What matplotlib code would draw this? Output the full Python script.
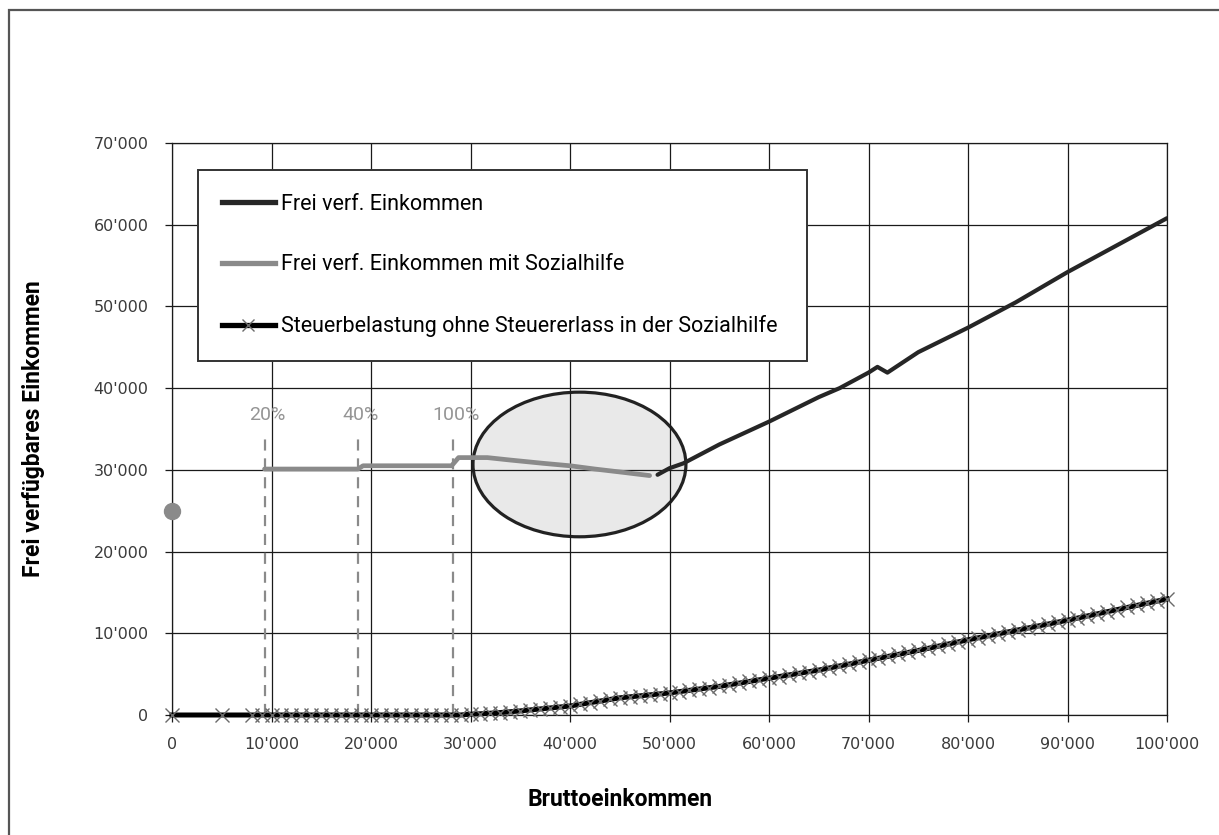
import matplotlib
matplotlib.use("Agg")
import matplotlib.pyplot as plt
import matplotlib.patches as patches
from matplotlib.ticker import FuncFormatter, MultipleLocator
from matplotlib.lines import Line2D

# Frei verfuegbares Einkommen (ohne Sozialhilfe)
income_x = [48800, 50000, 51400, 55000, 60000, 65000, 67100, 70000, 70900,
            71900, 75000, 80000, 84800, 90000, 95000, 100000]
income_y = [29400, 30200, 30800, 33100, 35900, 38900, 40000, 41900, 42600,
            41900, 44400, 47400, 50500, 54200, 57500, 60800]

# Frei verfuegbares Einkommen mit Sozialhilfe
social_x = [9300, 18700, 19200, 28100, 28800, 31700, 34000, 37300, 40000,
            42500, 45300, 48000]
social_y = [30100, 30100, 30500, 30500, 31500, 31500, 31200, 30800, 30500,
            30100, 29700, 29300]

# Einzelpunkt bei Bruttoeinkommen 0
zero_point = (0, 25000)

# Steuerbelastung ohne Steuererlass
tax_x = [0, 5000, 8000, 9000] + list(range(10000, 101000, 1000))
tax_y = [0, 0, 0, 0,
         0, 0, 0, 0, 0, 0, 0, 0, 0, 0,
         0, 0, 0, 0, 0, 0, 0, 0, 0, 0,
         100, 150, 220, 300, 400, 500, 620, 740, 860, 980,
         1100, 1300, 1500, 1700, 1900, 2100, 2220, 2340, 2460, 2580,
         2700, 2860, 3020, 3180, 3340, 3500, 3700, 3900, 4100, 4300,
         4500, 4700, 4900, 5100, 5300, 5500, 5740, 5980, 6220, 6460,
         6700, 6940, 7180, 7420, 7660, 7900, 8160, 8420, 8680, 8940,
         9200, 9440, 9680, 9920, 10160, 10400, 10640, 10880, 11120, 11360,
         11600, 11860, 12120, 12380, 12640, 12900, 13160, 13420, 13680, 13940,
         14200]

# Schwellen der Sozialhilfe
thresholds = [9300, 18700, 28200]
threshold_labels = ["20%", "40%", "100%"]
threshold_top = 34000

legend_labels = ["Frei verf. Einkommen",
                 "Frei verf. Einkommen mit Sozialhilfe",
                 "Steuerbelastung ohne Steuererlass in der Sozialhilfe"]

dark = "#262626"
grey = "#8a8a8a"

fig = plt.figure(figsize=(12.19, 8.35), dpi=100)
ax = fig.add_axes([172 / 1219, 1 - 715 / 835, 995 / 1219, 572 / 835])

ax.set_xlim(0, 100000)
ax.set_ylim(0, 70000)
ax.xaxis.set_major_locator(MultipleLocator(10000))
ax.yaxis.set_major_locator(MultipleLocator(10000))
fmt = FuncFormatter(lambda v, p: "0" if v == 0 else f"{int(v):,}".replace(",", "'"))
ax.xaxis.set_major_formatter(fmt)
ax.yaxis.set_major_formatter(fmt)

ax.grid(True, color="#1a1a1a", lw=0.9)
for s in ax.spines.values():
    s.set_color("#1a1a1a")
    s.set_linewidth(0.9)
ax.tick_params(axis="both", direction="out", length=5, width=0.9, color="#1a1a1a",
               labelsize=11.5, labelcolor="#3a3a3a")
ax.tick_params(axis="y", pad=12)
ax.tick_params(axis="x", pad=11)

# highlighted region
ell = patches.Ellipse((40950, 30660), 21400, 17700, facecolor="#e9e9e9",
                      edgecolor="#222222", lw=2.3, zorder=1)
ax.add_patch(ell)

# threshold markers
ax.vlines(thresholds, 0, threshold_top, colors=grey, lw=1.6,
          linestyles=(0, (5, 3.5)), zorder=2)
for tx, tl in zip(thresholds, threshold_labels):
    ax.text(tx + 300, 36700, tl, ha="center", va="center", color="#959595",
            fontsize=14, family="Roboto", zorder=3)

ax.plot(tax_x, tax_y, color="black", lw=3.6, marker="x", markersize=10,
        markeredgecolor="#6a6a6a", markeredgewidth=1.0, zorder=3, clip_on=False)
ax.plot(social_x, social_y, color=grey, lw=3.4, solid_capstyle="round", zorder=4)
ax.plot(income_x, income_y, color=dark, lw=3.0, solid_capstyle="round", zorder=4)
ax.plot(*zero_point, "o", color=grey, markersize=11.5, clip_on=False, zorder=5)

handles = [Line2D([], [], color=dark, lw=3.8),
           Line2D([], [], color=grey, lw=3.8),
           Line2D([], [], color="black", lw=3.8, marker="x", markersize=8,
                  markeredgecolor="#6a6a6a", markevery=[1])]
handles[2].set_data([0, 0.5, 1], [0, 0, 0])
leg = ax.legend(handles, legend_labels, loc="upper left",
                bbox_to_anchor=(0.026, 0.953, 0.612, 0.0), mode="expand",
                prop={"family": "Roboto", "size": 15.5}, frameon=True, fancybox=False,
                framealpha=1, edgecolor="#333333", borderpad=1.1, labelspacing=1.85,
                handlelength=2.5, handletextpad=0.25, borderaxespad=0)
leg.get_frame().set_linewidth(1.4)
leg.set_zorder(6)

ax.set_xlabel("Bruttoeinkommen", fontsize=16.5, fontweight="bold", family="Roboto")
ax.set_ylabel("Frei verfügbares Einkommen", fontsize=16.5, fontweight="bold", family="Roboto")
ax.xaxis.set_label_coords(0.45, -0.128)
ax.yaxis.set_label_coords(-0.128, 0.5)

# outer frame around the chart
frame = patches.Rectangle((9 / 1219, -0.1), 1.2, 1.1 - 10 / 835, transform=fig.transFigure,
                          fill=False, edgecolor="#555555", lw=1.6, clip_on=False)
fig.patches.append(frame)

fig.savefig("out.png", dpi=100)
